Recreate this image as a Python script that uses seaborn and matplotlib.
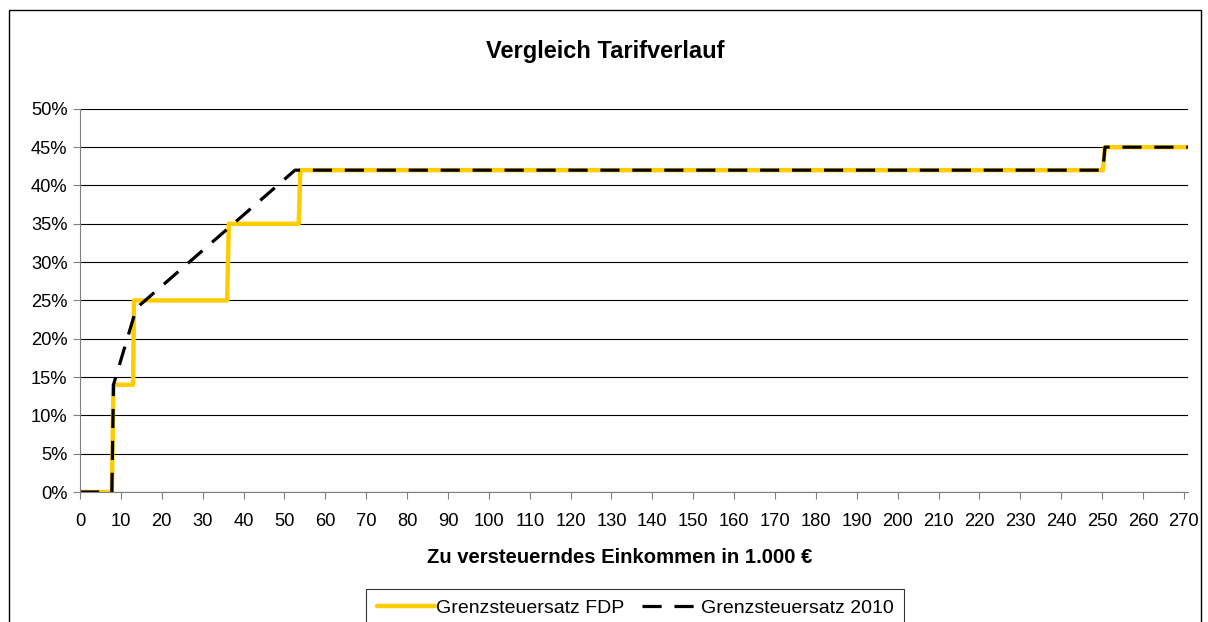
import numpy as np
import pandas as pd
import matplotlib
matplotlib.use("Agg")
import matplotlib.pyplot as plt
from matplotlib.patches import Rectangle
import seaborn as sns

# Grenzsteuersatz FDP (Stufentarif), x in 1.000 EUR, y in %
fdp_x = [0, 7.8, 8.2, 13.0, 13.2, 36.0, 36.4, 53.5, 53.9, 250.2, 250.7, 271]
fdp_y = [0, 0, 14, 14, 25, 25, 35, 35, 42, 42, 45, 45]

# Grenzsteuersatz 2010 (linear-progressiv)
t10_x = [0, 7.8, 8.2, 13.8, 52.6, 250.2, 250.7, 271]
t10_y = [0, 0, 14, 24, 42, 42, 45, 45]

sns.set_style("white")
plt.rcParams['font.family'] = ['Liberation Sans', 'DejaVu Sans']
plt.rcParams['text.color'] = 'black'
plt.rcParams['axes.labelcolor'] = 'black'
plt.rcParams['xtick.color'] = 'black'
plt.rcParams['ytick.color'] = 'black'

df_fdp = pd.DataFrame({"x": fdp_x, "y": fdp_y})
df_10 = pd.DataFrame({"x": t10_x, "y": t10_y})

fig = plt.figure(figsize=(12.08, 6.22), dpi=100)
ax = fig.add_axes([0.0662, 0.209, 0.9172, 0.616])

sns.lineplot(data=df_fdp, x="x", y="y", ax=ax, color="#FFCC00", linewidth=3.2,
             sort=False, label="Grenzsteuersatz FDP")
sns.lineplot(data=df_10, x="x", y="y", ax=ax, color="black", linewidth=2.3,
             sort=False, label="Grenzsteuersatz 2010", dashes=False)
ax.lines[1].set_dashes([6, 4])

ax.set_xlim(0, 271)
ax.set_ylim(0, 50)
ax.set_xticks(np.arange(0, 271, 10))
ax.set_yticks(np.arange(0, 51, 5))
ax.set_yticklabels([f"{v}%" for v in range(0, 51, 5)])
ax.yaxis.grid(True, color="black", linewidth=0.8)
ax.set_axisbelow(True)
for s in ["top", "right"]:
    ax.spines[s].set_visible(False)
ax.spines["left"].set_color("#808080")
ax.spines["bottom"].set_color("#808080")
ax.tick_params(axis="both", direction="out", length=5, color="#808080",
               labelcolor="black", labelsize=13.2, bottom=True, left=True)
ax.tick_params(axis="x", pad=10)
ax.tick_params(axis="y", pad=4)

ax.set_xlabel("Zu versteuerndes Einkommen in 1.000 €", fontsize=14.6,
              fontweight="bold", labelpad=13)
ax.xaxis.label.set_x(0.487)
ax.set_ylabel("")
fig.text(0.501, 0.918, "Vergleich Tarifverlauf", ha="center", va="center",
         fontsize=17, fontweight="bold")

leg = ax.legend(loc="upper center", bbox_to_anchor=(0.501, -0.253), ncol=2,
                frameon=True, fancybox=False, edgecolor="black", fontsize=14,
                handlelength=3.0, handletextpad=0.05, columnspacing=0.9,
                borderpad=0.55, borderaxespad=0)
leg.get_frame().set_linewidth(0.8)

fig.patches.append(Rectangle((9 / 1208, -0.01), 1192 / 1208, 1.01 - 10 / 622,
                             transform=fig.transFigure, fill=False,
                             edgecolor="black", linewidth=1))

fig.savefig("out.png", dpi=100)
